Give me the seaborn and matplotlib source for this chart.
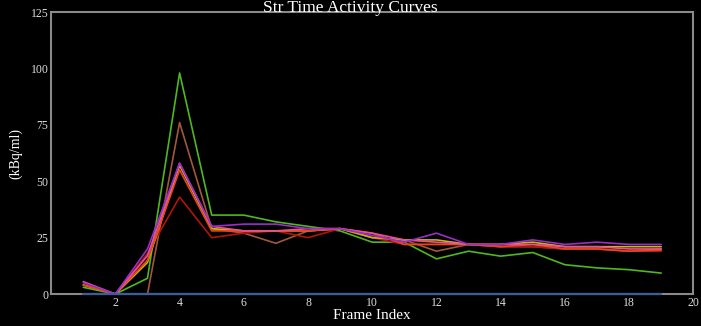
import matplotlib
matplotlib.use("Agg")
import matplotlib.pyplot as plt
import pandas as pd
import numpy as np
import seaborn as sns

frames = list(range(1, 20))

green = [3, 0, 7, 98, 35, 35, 32, 30, 28, 23, 23, 15.6, 19, 16.8, 18.4, 13, 11.6, 10.8, 9.3]
brown = [0, 0, 0, 76, 29, 27, 22.5, 28, 29, 25, 24, 19, 22, 21, 21, 20, 20, 19, 20]
darkred = [4, 0, 18, 43, 25, 27, 28, 25, 29, 25, 22, 22, 22, 21, 21, 20, 20, 19, 19]
purple = [5, 0, 20, 58, 30, 31, 31, 29, 29, 26, 23, 27, 22, 22, 24, 22, 23, 22, 22]
olive = [4, 0, 14, 57, 29, 28, 28, 28, 29, 25, 24, 24, 22, 22, 23, 21, 21, 21, 21]
pink = [5.5, 0, 17, 58, 30, 28, 28, 29, 29, 27, 24, 23, 22, 22, 22, 21, 21, 20, 20]
orangered = [4, 0, 15, 55, 28, 28, 28, 28, 29, 27, 22, 22, 22, 21, 22, 20, 20, 19, 19.5]
blue = [0] * 19

series = {
    "green": green, "brown": brown, "darkred": darkred, "olive": olive,
    "orangered": orangered, "pink": pink, "purple": purple, "blue": blue,
}
colors = {
    "green": "#4fb81c", "brown": "#a0583a", "darkred": "#b01505", "olive": "#c8b80a",
    "orangered": "#e8461a", "pink": "#e8509a", "purple": "#9a2ec8", "blue": "#3c5c9c",
}

df = pd.concat([pd.DataFrame({"frame": frames, "value": v, "roi": k}) for k, v in series.items()])

sns.set_style("dark", {"axes.facecolor": "black", "figure.facecolor": "black"})
plt.rcParams["font.family"] = ["Liberation Serif", "DejaVu Serif"]

fig = plt.figure(figsize=(7.01, 3.26), dpi=100)
ax = fig.add_axes([0.073, 0.098, 0.916, 0.865])
sns.lineplot(data=df, x="frame", y="value", hue="roi", palette=colors,
             hue_order=list(series.keys()), linewidth=1.2, legend=False, ax=ax, zorder=3)
# the all-zero curve sits on the bottom axis line
ax.lines[-1].set_linewidth(1.6)
ax.lines[-1].set_zorder(5)
ax.lines[-1].set_clip_on(False)

ax.set_xlim(0, 20)
ax.set_ylim(0, 125)
ax.set_xticks(range(2, 21, 2))
ax.set_yticks(range(0, 126, 25))
ax.tick_params(direction="in", length=4, colors="#aaaaaa", labelcolor="#dddddd",
               labelsize=8.5, pad=2)
for s in ax.spines.values():
    s.set_visible(True)
    s.set_color("#8a8a8a")
    s.set_linewidth(1.5)
ax.grid(False)

fig.text(0.5, 1.0, "Str Time Activity Curves", color="white", fontsize=12.5,
         ha="center", va="top")
ax.set_xlabel("Frame Index", color="white", fontsize=11, labelpad=0)
ax.set_ylabel("(kBq/ml)", color="white", fontsize=10, labelpad=6)

fig.savefig("out.png", dpi=100, facecolor="black")
